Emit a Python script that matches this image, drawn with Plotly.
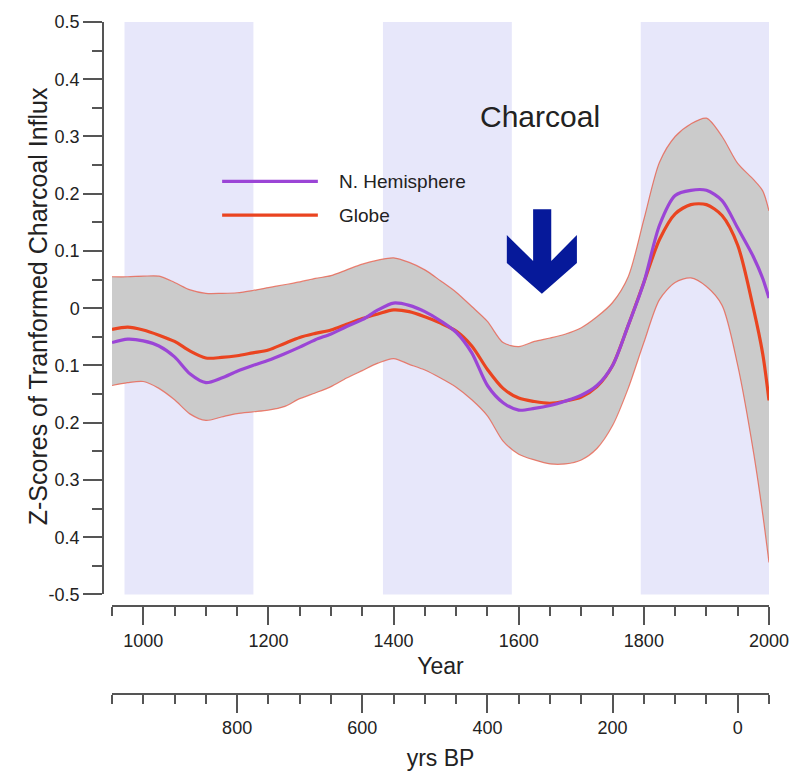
import plotly.graph_objects as go

# ---- data ----
years = [950, 975, 1000, 1025, 1050, 1075, 1100, 1125, 1150, 1175,
         1200, 1225, 1250, 1275, 1300, 1325, 1350, 1375, 1400, 1425,
         1450, 1475, 1500, 1525, 1550, 1575, 1600, 1625, 1650, 1675,
         1700, 1725, 1750, 1775, 1800, 1825, 1850, 1875, 1900, 1925,
         1950, 1975, 1990, 2000]

globe = [-0.037, -0.033, -0.038, -0.047, -0.058, -0.075, -0.087, -0.086, -0.083, -0.078,
         -0.073, -0.062, -0.051, -0.044, -0.038, -0.028, -0.018, -0.010, -0.003, -0.006,
         -0.015, -0.026, -0.040, -0.066, -0.107, -0.140, -0.157, -0.163, -0.166, -0.162,
         -0.155, -0.137, -0.100, -0.030, 0.045, 0.120, 0.165, 0.181, 0.181, 0.162,
         0.110, 0.000, -0.080, -0.161]

n_hemisphere = [-0.060, -0.054, -0.057, -0.066, -0.085, -0.115, -0.130, -0.122, -0.110, -0.100,
                -0.091, -0.080, -0.068, -0.055, -0.045, -0.032, -0.020, -0.003, 0.009, 0.005,
                -0.006, -0.022, -0.042, -0.078, -0.135, -0.165, -0.178, -0.175, -0.170, -0.162,
                -0.152, -0.135, -0.100, -0.030, 0.045, 0.145, 0.197, 0.206, 0.206, 0.188,
                0.140, 0.090, 0.052, 0.018]

upper = [0.055, 0.055, 0.056, 0.056, 0.045, 0.032, 0.026, 0.026, 0.027, 0.031,
         0.036, 0.041, 0.046, 0.052, 0.057, 0.067, 0.077, 0.084, 0.088, 0.080,
         0.067, 0.048, 0.028, 0.003, -0.023, -0.060, -0.067, -0.058, -0.052, -0.045,
         -0.034, -0.015, 0.010, 0.055, 0.155, 0.255, 0.300, 0.322, 0.332, 0.300,
         0.253, 0.225, 0.205, 0.170]

lower = [-0.135, -0.130, -0.128, -0.140, -0.160, -0.185, -0.196, -0.190, -0.184, -0.181,
         -0.178, -0.172, -0.158, -0.148, -0.137, -0.122, -0.109, -0.096, -0.088, -0.098,
         -0.108, -0.122, -0.138, -0.160, -0.188, -0.232, -0.255, -0.265, -0.272, -0.272,
         -0.265, -0.245, -0.205, -0.140, -0.060, 0.015, 0.045, 0.053, 0.038, 0.005,
         -0.100, -0.250, -0.360, -0.444]

band_starts = [970, 1383, 1795]
band_ends = [1176, 1589, 2000]

year_ticks = [1000, 1200, 1400, 1600, 1800, 2000]
bp_tick_years = [1150, 1350, 1550, 1750, 1950]
bp_tick_labels = ["800", "600", "400", "200", "0"]
y_tickvals = [-0.5, -0.4, -0.3, -0.2, -0.1, 0, 0.1, 0.2, 0.3, 0.4, 0.5]
y_ticktext = ["-0.5", "0.4", "0.3", "0.2", "0.1", "0", "0.1", "0.2", "0.3", "0.4", "0.5"]

FONT = "Liberation Sans, Arial, sans-serif"
TXT = "#222222"
AX = "#555555"
PURPLE = "#9b45d6"
RED = "#ea4420"
EDGE = "rgba(232,90,70,0.75)"

fig = go.Figure()

fig.add_trace(go.Scatter(x=years, y=upper, mode="lines",
                         line=dict(color=EDGE, width=1.2, shape="spline", smoothing=0.8),
                         showlegend=False, hoverinfo="skip"))
fig.add_trace(go.Scatter(x=years, y=lower, mode="lines", fill="tonexty",
                         fillcolor="#cbcbcb",
                         line=dict(color=EDGE, width=1.2, shape="spline", smoothing=0.8),
                         showlegend=False, hoverinfo="skip"))
fig.add_trace(go.Scatter(x=years, y=globe, mode="lines", name="Globe",
                         line=dict(color=RED, width=3.2, shape="spline", smoothing=0.8),
                         showlegend=False))
fig.add_trace(go.Scatter(x=years, y=n_hemisphere, mode="lines", name="N. Hemisphere",
                         line=dict(color=PURPLE, width=3.2, shape="spline", smoothing=0.8),
                         showlegend=False))
# invisible trace on the second (yrs BP) axis
fig.add_trace(go.Scatter(x=[years[0], years[-1]], y=[None, None], xaxis="x2",
                         mode="lines", showlegend=False, hoverinfo="skip"))

# shaded lavender periods
for s, e in zip(band_starts, band_ends):
    fig.add_shape(type="rect", xref="x", yref="y domain", x0=s, x1=e, y0=0, y1=1,
                  fillcolor="#e7e7fa", line=dict(width=0), layer="below")

# arrow
fig.add_shape(type="path", xref="x", yref="y",
              path="M 1581 0.1278 L 1581 0.0791 L 1637 0.0252 L 1693 0.0791 L 1693 0.1278 "
                   "L 1652 0.0826 L 1652 0.173 L 1623 0.173 L 1623 0.0826 Z",
              fillcolor="#06199a", line=dict(width=0))

# legend (drawn manually)
fig.add_shape(type="line", xref="x", yref="y", x0=1126, x1=1279, y0=0.2217, y1=0.2217,
              line=dict(color=PURPLE, width=3.2))
fig.add_shape(type="line", xref="x", yref="y", x0=1126, x1=1279, y0=0.1626, y1=0.1626,
              line=dict(color=RED, width=3.2))
fig.add_annotation(x=1310, y=0.2217, xref="x", yref="y", text="N. Hemisphere",
                   showarrow=False, xanchor="left", yanchor="middle",
                   font=dict(family=FONT, size=19, color=TXT))
fig.add_annotation(x=1310, y=0.1626, xref="x", yref="y", text="Globe",
                   showarrow=False, xanchor="left", yanchor="middle",
                   font=dict(family=FONT, size=19, color=TXT))

fig.add_annotation(x=1634, y=0.335, xref="x", yref="y", text="Charcoal",
                   showarrow=False, xanchor="center", yanchor="middle",
                   font=dict(family=FONT, size=30, color=TXT))

fig.add_annotation(x=-0.098, y=0.003, xref="paper", yref="y",
                   text="Z-Scores of Tranformed Charcoal Influx", textangle=-90,
                   showarrow=False, xanchor="center", yanchor="middle",
                   font=dict(family=FONT, size=25, color=TXT))

PW = 810 - 103 - 41
PH = 778 - 20 - 83
xdom = [9 / PW, 1]

fig.update_layout(
    width=810, height=778,
    margin=dict(l=103, r=41, t=20, b=83),
    paper_bgcolor="white", plot_bgcolor="white",
    showlegend=False,
    font=dict(family=FONT, color=TXT),
    xaxis=dict(domain=xdom, range=[950, 2000], anchor="free",
               position=(695 - 607) / PH,
               showline=True, linecolor=AX, linewidth=1.5,
               ticks="outside", ticklen=18, tickwidth=1.5, tickcolor=AX,
               tickvals=year_ticks, ticktext=[str(v) for v in year_ticks],
               tickfont=dict(size=18, family=FONT, color=TXT),
               minor=dict(dtick=50, tick0=0, ticks="outside", ticklen=9,
                          tickwidth=1.5, tickcolor=AX),
               showgrid=False, zeroline=False,
               title=dict(text="Year", font=dict(size=23, family=FONT, color=TXT),
                          standoff=7)),
    xaxis2=dict(domain=xdom, range=[950, 2000], anchor="free", position=0,
                overlaying="x", side="bottom",
                showline=True, linecolor=AX, linewidth=1.5,
                ticks="outside", ticklen=18, tickwidth=1.5, tickcolor=AX,
                tickvals=bp_tick_years, ticktext=bp_tick_labels,
                tickfont=dict(size=18, family=FONT, color=TXT),
                minor=dict(dtick=50, tick0=0, ticks="outside", ticklen=9,
                           tickwidth=1.5, tickcolor=AX),
                showgrid=False, zeroline=False,
                title=dict(text="yrs BP", font=dict(size=23, family=FONT, color=TXT),
                           standoff=12)),
    yaxis=dict(domain=[(695 - 595) / PH, 1], range=[-0.5, 0.5],
               anchor="free", position=0,
               showline=True, linecolor=AX, linewidth=1.5,
               ticks="outside", ticklen=19, tickwidth=1.5, tickcolor=AX,
               tickvals=y_tickvals, ticktext=y_ticktext,
               tickfont=dict(size=18, family=FONT, color=TXT),
               minor=dict(dtick=0.05, tick0=0, ticks="outside", ticklen=10,
                          tickwidth=1.5, tickcolor=AX),
               showgrid=False, zeroline=False),
)

fig.write_html("out.html")
